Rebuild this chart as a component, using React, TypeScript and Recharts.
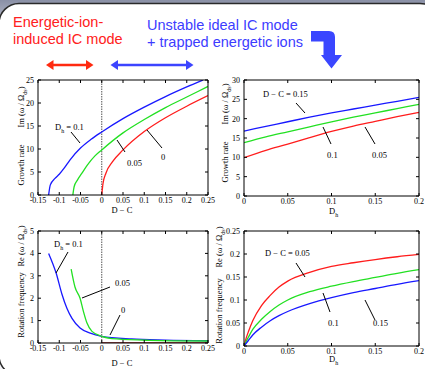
import React from 'react';
import { LineChart, Line, XAxis, YAxis, ReferenceLine } from 'recharts';

const SERIF = '"Liberation Serif", "DejaVu Serif", serif';
const SANS = '"Liberation Sans", Arial, sans-serif';

// top-left: growth rate vs D - C
const tlBlueX = [-0.125, -0.121, -0.11, -0.1, -0.088, -0.075, -0.05, -0.025, 0, 0.05, 0.1, 0.15, 0.2, 0.238];
const tlBlueY = [0, 2.2, 3.6, 4.5, 5.9, 7.6, 10.2, 12.1, 13.7, 16.6, 19.1, 21.4, 23.5, 25];
const tlGreenX = [-0.068, -0.065, -0.057, -0.047, -0.034, -0.016, 0, 0.05, 0.1, 0.15, 0.2, 0.25];
const tlGreenY = [0, 1.8, 3.3, 4.7, 6.5, 8.5, 9.8, 13.5, 16.4, 19, 21.3, 23.6];
const tlRedX = [0, 0.003, 0.01, 0.025, 0.05, 0.1, 0.15, 0.2, 0.25];
const tlRedY = [0, 2.5, 4.8, 7.2, 9.8, 13.8, 16.8, 19.3, 21.6];

// top-right: growth rate vs Dh
const dhGrid = [0, 0.025, 0.05, 0.075, 0.1, 0.125, 0.15, 0.175, 0.2];
const trBlue = [16.8, 18, 19.2, 20.4, 21.5, 22.5, 23.5, 24.5, 25.5];
const trGreen = [13.8, 15.3, 16.6, 17.9, 19.2, 20.4, 21.5, 22.6, 23.7];
const trRed = [9.9, 11.8, 13.4, 15.1, 16.7, 18.1, 19.3, 20.5, 21.6];

// bottom-left: rotation frequency vs D - C
const blBlueX = [-0.125, -0.107, -0.094, -0.082, -0.07, -0.051, -0.027, 0, 0.07, 0.15, 0.25];
const blBlueY = [4.0, 3.1, 2.2, 1.55, 1.1, 0.67, 0.44, 0.3, 0.18, 0.13, 0.1];
const blGreenX = [-0.072, -0.063, -0.051, -0.043, -0.035, -0.023, 0, 0.035, 0.113, 0.25];
const blGreenY = [3.3, 2.5, 2.0, 1.4, 0.9, 0.52, 0.3, 0.18, 0.12, 0.09];
const blRedX = [0, 0.05, 0.1, 0.15, 0.2, 0.25];
const blRedY = [0.01, 0.01, 0.01, 0.01, 0.01, 0.01];

// bottom-right: rotation frequency vs Dh
const brX = [0, 0.0025, 0.005, 0.01, 0.02, 0.03, 0.04, 0.05, 0.075, 0.1, 0.125, 0.15, 0.175, 0.2];
const brRed = [0, 0.017, 0.031, 0.055, 0.088, 0.11, 0.128, 0.141, 0.16, 0.173, 0.181, 0.188, 0.194, 0.199];
const brGreen = [0, 0.01, 0.019, 0.036, 0.058, 0.075, 0.089, 0.1, 0.118, 0.13, 0.14, 0.149, 0.158, 0.166];
const brBlue = [0, 0.006, 0.012, 0.024, 0.041, 0.055, 0.066, 0.075, 0.092, 0.105, 0.116, 0.125, 0.134, 0.142];

const dcTicks = [-0.15, -0.1, -0.05, 0, 0.05, 0.1, 0.15, 0.2, 0.25];
const dhTicks = [0, 0.05, 0.1, 0.15, 0.2];
const imTicksL = [0, 5, 10, 15, 20, 25];
const imTicksR = [0, 5, 10, 15, 20, 25, 30];
const reTicksL = [0, 1, 2, 3, 4, 5];
const reTicksR = [0, 0.05, 0.1, 0.15, 0.2, 0.25];

const BLUE = '#1818ff';
const GREEN = '#22e022';
const RED = '#ff1c1c';

const zip = (xs: number[], ys: number[]) => xs.map((x, i) => ({ x, y: ys[i] }));

const tickFont = { fontSize: 8, fontFamily: SERIF, fill: '#000' };

function Panel({ box, xDomain, xTicks, yDomain, yTicks, series, zeroLine }: any) {
  const [x0, y0, x1, y1] = box;
  const padL = 30, padR = 5, padT = 5, padB = 20;
  const blank = () => '';
  return (
    <div style={{ position: 'absolute', left: x0 - padL, top: y0 - padT }}>
      <LineChart width={x1 - x0 + padL + padR} height={y1 - y0 + padT + padB} margin={{ top: 0, right: 0, bottom: 0, left: 0 }}>
        <XAxis type="number" dataKey="x" domain={xDomain} ticks={xTicks} interval={0} allowDataOverflow
          height={padB} tickSize={-3} tickMargin={5} tick={tickFont} stroke="#000" tickFormatter={(v: number) => String(v)} />
        <XAxis xAxisId="top" orientation="top" type="number" dataKey="x" domain={xDomain} ticks={xTicks} interval={0}
          allowDataOverflow height={padT} tickSize={-3} tickFormatter={blank} stroke="#000" />
        <YAxis type="number" domain={yDomain} ticks={yTicks} interval={0} allowDataOverflow width={padL}
          tickSize={-3} tickMargin={7} tick={tickFont} stroke="#000" />
        <YAxis yAxisId="right" orientation="right" type="number" domain={yDomain} ticks={yTicks} interval={0}
          allowDataOverflow width={padR} tickSize={-3} tickFormatter={blank} stroke="#000" />
        {zeroLine && <ReferenceLine x={0} stroke="#555" strokeDasharray="1.5 1" strokeWidth={1} />}
        {series.map((s: any, i: number) => (
          <Line key={i} data={s.data} dataKey="y" type="monotone" stroke={s.color} strokeWidth={1.3}
            dot={false} isAnimationActive={false} />
        ))}
      </LineChart>
    </div>
  );
}

const annot = { fontSize: 8.5, fontFamily: SERIF, fill: '#000' };

function Overlay() {
  const leader = (x1: number, y1: number, x2: number, y2: number) => (
    <line x1={x1} y1={y1} x2={x2} y2={y2} stroke="#000" strokeWidth={1} />
  );
  const dh = (x: number, y: number, rest: string) => (
    <text x={x} y={y} {...annot}>
      D<tspan dy={2.5} fontSize={6}>h</tspan><tspan dy={-2.5}>{rest}</tspan>
    </text>
  );
  const ylab = (x: number, yTop: number, yBot: number, top: string, bottom: string) => (
    <g>
      <text transform={`translate(${x},${yBot}) rotate(-90)`} {...annot} textAnchor="middle">{bottom}</text>
      <text transform={`translate(${x},${yTop}) rotate(-90)`} {...annot} textAnchor="middle">
        {top} (ω / Ω<tspan dy={2.5} fontSize={6}>ds</tspan><tspan dy={-2.5}>)</tspan>
      </text>
    </g>
  );
  return (
    <svg width={425} height={369} style={{ position: 'absolute', left: 0, top: 0, pointerEvents: 'none' }}>
      <g fontFamily={SANS} fontSize={14.5}>
        <text x={13} y={27} fill="#ff2020">Energetic-ion-</text>
        <text x={13} y={44} fill="#ff2020">induced IC mode</text>
        <text x={147} y={29.5} fill="#3c3cff">Unstable ideal IC mode</text>
        <text x={147} y={46.5} fill="#3c3cff">+ trapped energetic ions</text>
      </g>
      {/* double arrows */}
      <line x1={51} y1={65} x2={88} y2={65} stroke="#ff2a10" strokeWidth={2.4} />
      <polygon points="46,65 53.5,60 53.5,70" fill="#ff2a10" />
      <polygon points="93.5,65 86,60 86,70" fill="#ff2a10" />
      <line x1={116} y1={65} x2={188} y2={65} stroke="#3c44ff" strokeWidth={2.4} />
      <polygon points="110.5,65 118,60 118,70" fill="#3c44ff" />
      <polygon points="193.5,65 186,60 186,70" fill="#3c44ff" />
      {/* bent arrow */}
      <path d="M311,31 H329 Q335,31 335,37 V55 H342 L331.5,68.5 L321,55 H323.5 V41.5 H311 Z" fill="#3a46ff" />

      {/* axis titles */}
      <text x={122} y={213} {...annot} textAnchor="middle">D − C</text>
      <text x={122} y={366} {...annot} textAnchor="middle">D − C</text>
      {dh(329, 214, '')}
      {dh(329, 362, '')}
      {ylab(24, 107, 165, 'Im', 'Growth rate')}
      {ylab(228, 104, 162, 'Im', 'Growth rate')}
      {ylab(24, 246, 305, 'Re', 'Rotation frequency')}
      {ylab(222, 247, 311, 'Re', 'Rotation frequency')}

      {/* top-left labels */}
      {dh(55, 130, ' = 0.1')}
      {leader(71, 132, 80, 143)}
      <text x={127} y={166} {...annot}>0.05</text>
      {leader(117, 140, 125, 152)}
      <text x={161} y={160} {...annot}>0</text>
      {leader(147, 130, 162, 148)}

      {/* top-right labels */}
      <text x={263} y={97} {...annot}>D − C = 0.15</text>
      {leader(296, 103, 305, 113)}
      <text x={327} y={158} {...annot}>0.1</text>
      {leader(323, 127, 331, 144)}
      <text x={372} y={158} {...annot}>0.05</text>
      {leader(365, 127, 375, 144)}

      {/* bottom-left labels */}
      {dh(54, 247, ' = 0.1')}
      {leader(68, 252, 56, 273)}
      <text x={115} y={286} {...annot}>0.05</text>
      {leader(110, 287, 82, 298)}
      <text x={121} y={313} {...annot}>0</text>
      {leader(120, 315, 110, 335)}

      {/* bottom-right labels */}
      <text x={265} y={256} {...annot}>D − C = 0.05</text>
      {leader(296, 263, 305, 277)}
      <text x={328} y={326} {...annot}>0.1</text>
      {leader(323, 293, 330, 312)}
      <text x={373} y={326} {...annot}>0.15</text>
      {leader(365, 300, 375, 320)}
    </svg>
  );
}

function Frame() {
  return (
    <svg width={425} height={369} style={{ position: 'absolute', left: 0, top: 0 }}>
      <defs>
        <linearGradient id="bg" x1="0" y1="0" x2="0" y2="1">
          <stop offset="0" stopColor="#8a90a6" />
          <stop offset="0.12" stopColor="#e4e6ee" />
          <stop offset="1" stopColor="#f4f4f8" />
        </linearGradient>
      </defs>
      <rect x={0} y={0} width={425} height={369} fill="url(#bg)" />
      <rect x={-1} y={3.5} width={441} height={372} rx={20} fill="#fff" stroke="#2a2a2a" strokeWidth={1.5} />
    </svg>
  );
}

export default function App() {
  return (
    <div style={{ position: 'absolute', left: 0, top: 0, width: 425, height: 369, overflow: 'hidden', background: '#fff' }}>
      <style>{'.recharts-surface { overflow: visible; }'}</style>
      <Frame />
      <Panel box={[38, 80, 208, 195]} xDomain={[-0.15, 0.25]} xTicks={dcTicks} yDomain={[0, 25]} yTicks={imTicksL} zeroLine
        series={[
          { data: zip(tlBlueX, tlBlueY), color: BLUE },
          { data: zip(tlGreenX, tlGreenY), color: GREEN },
          { data: zip(tlRedX, tlRedY), color: RED },
        ]} />
      <Panel box={[244, 80, 419, 196]} xDomain={[0, 0.2]} xTicks={dhTicks} yDomain={[0, 30]} yTicks={imTicksR}
        series={[
          { data: zip(dhGrid, trBlue), color: BLUE },
          { data: zip(dhGrid, trGreen), color: GREEN },
          { data: zip(dhGrid, trRed), color: RED },
        ]} />
      <Panel box={[38, 231, 208, 343]} xDomain={[-0.15, 0.25]} xTicks={dcTicks} yDomain={[0, 5]} yTicks={reTicksL} zeroLine
        series={[
          { data: zip(blRedX, blRedY), color: '#8b1010' },
          { data: zip(blBlueX, blBlueY), color: BLUE },
          { data: zip(blGreenX, blGreenY), color: GREEN },
        ]} />
      <Panel box={[244, 231, 419, 346]} xDomain={[0, 0.2]} xTicks={dhTicks} yDomain={[0, 0.25]} yTicks={reTicksR}
        series={[
          { data: zip(brX, brRed), color: RED },
          { data: zip(brX, brGreen), color: GREEN },
          { data: zip(brX, brBlue), color: BLUE },
        ]} />
      <Overlay />
    </div>
  );
}
